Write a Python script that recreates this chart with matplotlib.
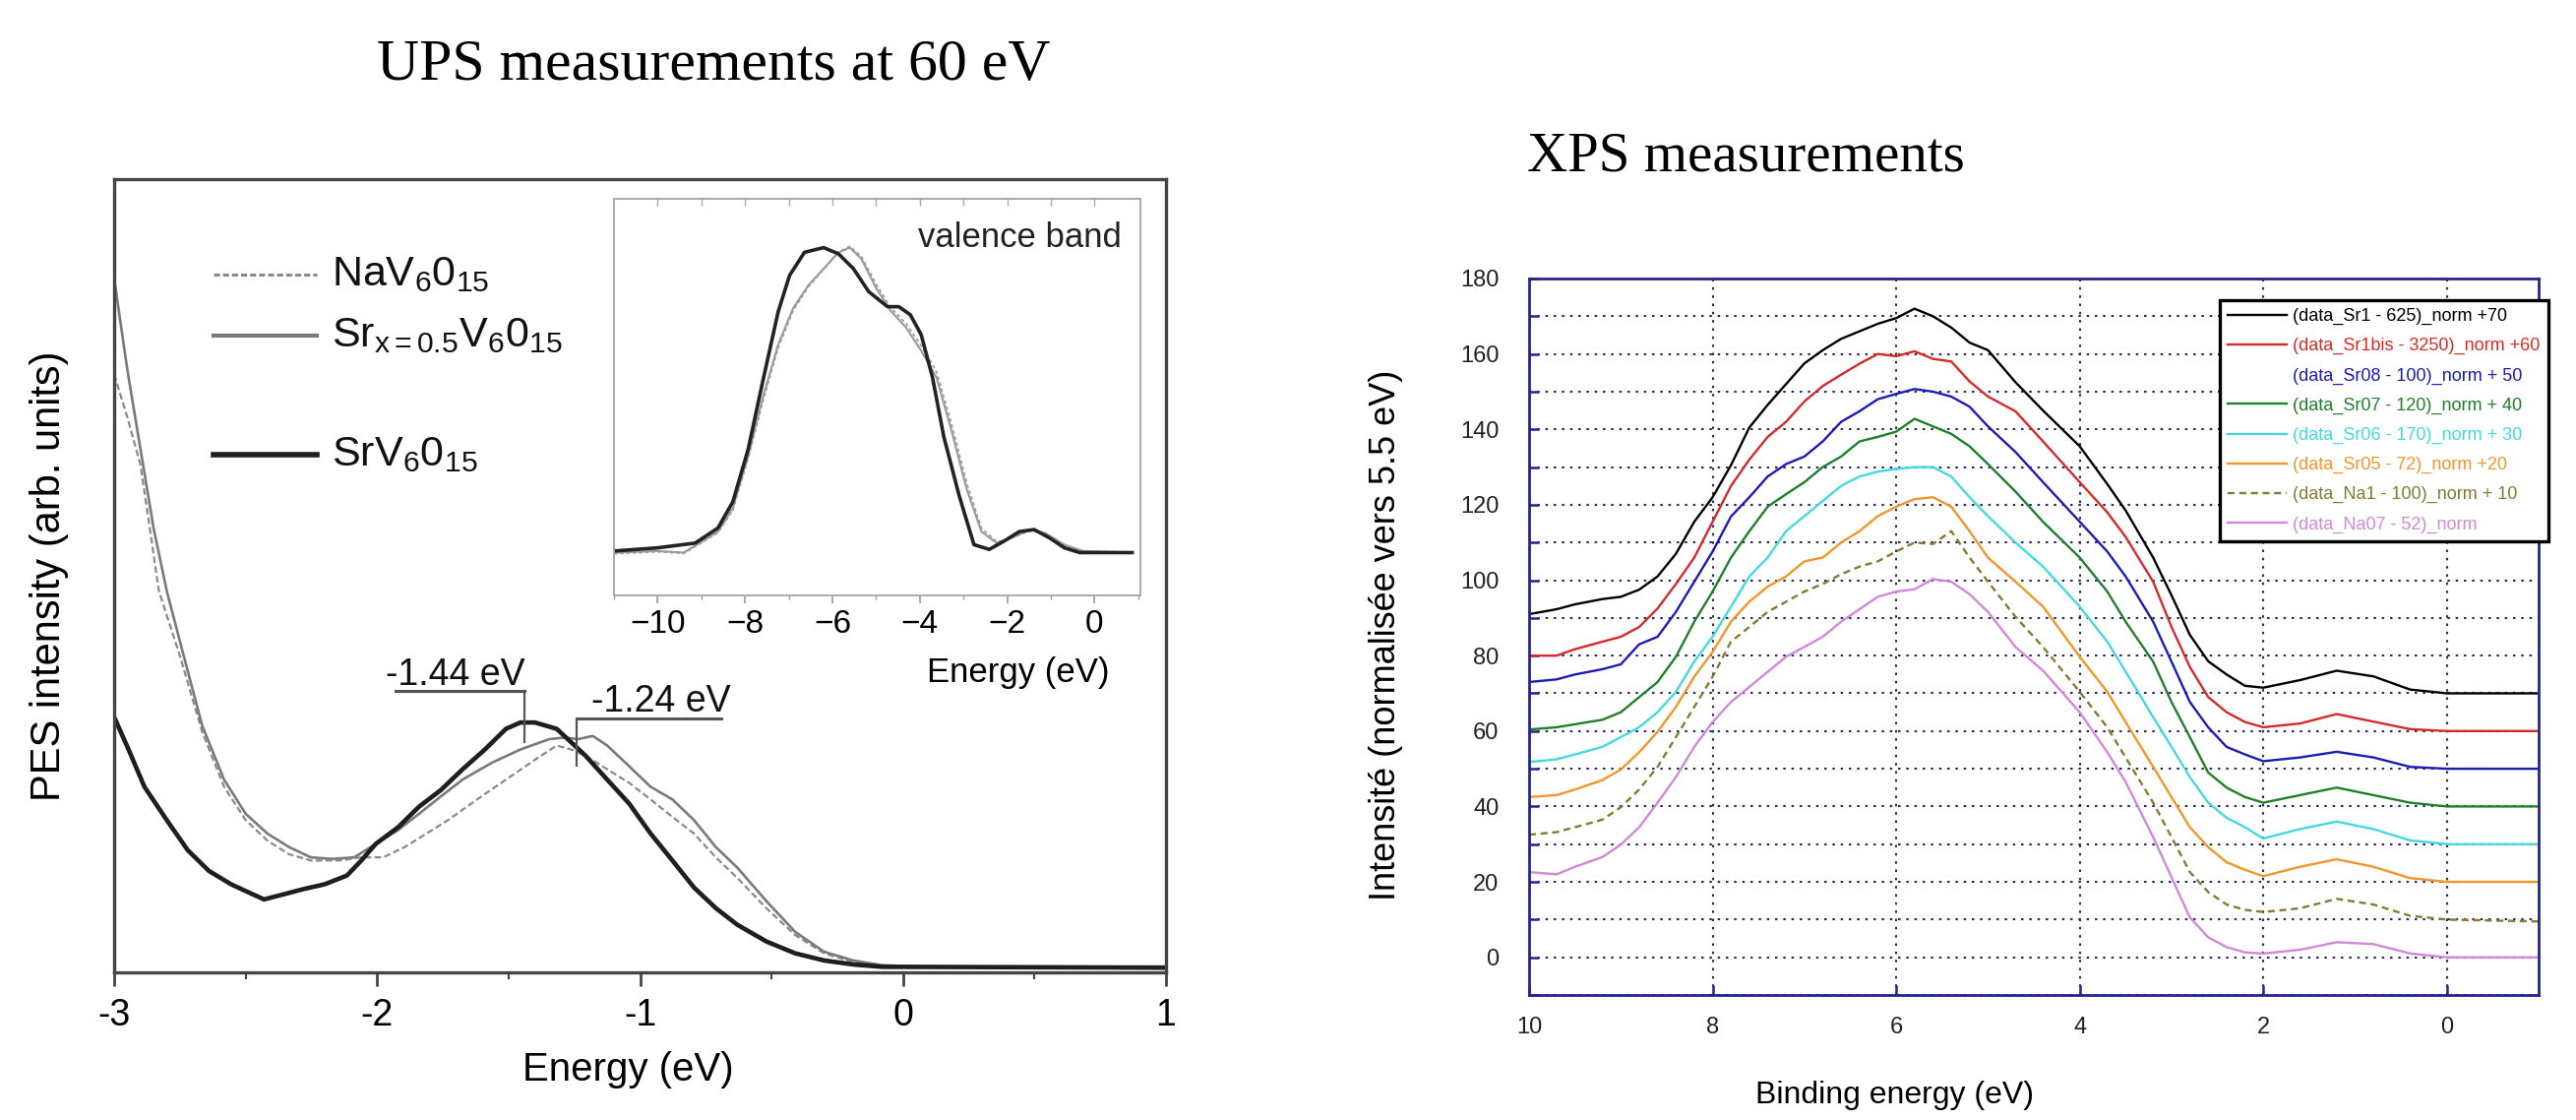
import matplotlib
matplotlib.use('Agg')
import matplotlib.pyplot as plt
from matplotlib.lines import Line2D
from matplotlib.ticker import MultipleLocator

plt.rcParams['font.family'] = ['Liberation Sans', 'DejaVu Sans']
plt.rcParams['mathtext.fontset'] = 'custom'
plt.rcParams['mathtext.rm'] = 'Liberation Sans'
plt.rcParams['mathtext.it'] = 'Liberation Sans:italic'
plt.rcParams['mathtext.bf'] = 'Liberation Sans:bold'

# ---------------- UPS main panel data (normalised intensity) ----------------
ups_sr_x = [-3.0, -2.94, -2.885, -2.80, -2.72, -2.64, -2.555, -2.47, -2.43, -2.36, -2.28, -2.20,
            -2.115, -2.06, -2.005, -1.92, -1.84, -1.757, -1.675, -1.59, -1.51, -1.455, -1.40,
            -1.317, -1.262, -1.207, -1.125, -1.042, -0.96, -0.877, -0.795, -0.712, -0.63, -0.52,
            -0.41, -0.30, -0.19, -0.08, 1.0]
ups_sr_y = [0.322, 0.277, 0.234, 0.192, 0.154, 0.128, 0.111, 0.098, 0.092, 0.098, 0.105, 0.111,
            0.122, 0.141, 0.162, 0.183, 0.209, 0.230, 0.256, 0.281, 0.307, 0.315, 0.315,
            0.307, 0.290, 0.273, 0.243, 0.213, 0.175, 0.141, 0.107, 0.081, 0.060, 0.039,
            0.024, 0.015, 0.010, 0.007, 0.006]

ups_sr05_x = [-3.0, -2.95, -2.90, -2.85, -2.80, -2.733, -2.665, -2.582, -2.50, -2.417, -2.335,
              -2.252, -2.17, -2.087, -2.005, -1.922, -1.84, -1.757, -1.675, -1.565, -1.455,
              -1.345, -1.29, -1.235, -1.18, -1.125, -1.042, -0.96, -0.877, -0.795, -0.712,
              -0.63, -0.52, -0.41, -0.30, -0.19, -0.08, 0.085, 1.0]
ups_sr05_y = [0.875, 0.76, 0.66, 0.56, 0.481, 0.396, 0.311, 0.243, 0.200, 0.175, 0.158,
              0.145, 0.143, 0.145, 0.162, 0.179, 0.200, 0.222, 0.243, 0.264, 0.281,
              0.294, 0.296, 0.294, 0.298, 0.286, 0.260, 0.234, 0.218, 0.192, 0.158,
              0.132, 0.090, 0.051, 0.026, 0.015, 0.009, 0.007, 0.005]

ups_na_x = [-3.0, -2.95, -2.90, -2.86, -2.83, -2.747, -2.665, -2.582, -2.50, -2.417, -2.335,
            -2.252, -2.142, -2.06, -1.977, -1.895, -1.812, -1.73, -1.62, -1.51, -1.40, -1.317,
            -1.262, -1.207, -1.125, -1.042, -0.96, -0.877, -0.795, -0.712, -0.63, -0.52,
            -0.41, -0.30, -0.19, -0.08, 1.0]
ups_na_y = [0.754, 0.70, 0.64, 0.55, 0.481, 0.396, 0.303, 0.234, 0.192, 0.166, 0.149,
            0.141, 0.141, 0.145, 0.145, 0.158, 0.175, 0.192, 0.218, 0.243, 0.268, 0.286,
            0.281, 0.273, 0.256, 0.239, 0.218, 0.196, 0.175, 0.145, 0.119, 0.081,
            0.047, 0.024, 0.013, 0.008, 0.005]

ups_labels = [r'NaV$_6$0$_{15}$', r'Sr$_{\mathrm{x=0.5}}$V$_6$0$_{15}$', r'SrV$_6$0$_{15}$']
peak_energies = [-1.44, -1.24]
peak_labels = ['-1.44 eV', '-1.24 eV']

# ---------------- inset (valence band) data ----------------
inset_sr_x = [-11.0, -10.0, -9.14, -8.62, -8.28, -7.93, -7.59, -7.24, -6.98, -6.64, -6.2, -5.86,
              -5.52, -5.17, -4.74, -4.48, -4.22, -3.97, -3.71, -3.45, -3.1, -2.76, -2.41, -2.07,
              -1.72, -1.38, -1.03, -0.69, -0.34, 0.86]
inset_sr_y = [0.112, 0.120, 0.132, 0.17, 0.236, 0.368, 0.542, 0.716, 0.807, 0.865, 0.877, 0.861,
              0.824, 0.766, 0.728, 0.728, 0.708, 0.658, 0.55, 0.40, 0.252, 0.128, 0.116, 0.137,
              0.161, 0.166, 0.145, 0.12, 0.108, 0.108]
inset_gray_x = [-11.0, -10.0, -9.4, -8.62, -8.28, -7.93, -7.59, -7.24, -6.9, -6.55, -6.2, -5.86,
                -5.6, -5.34, -5.0, -4.66, -4.31, -3.97, -3.62, -3.28, -2.93, -2.59, -2.24, -1.9,
                -1.47, -1.12, -0.69, -0.26, 0.86]
inset_sr05_y = [0.108, 0.112, 0.108, 0.161, 0.22, 0.352, 0.50, 0.633, 0.724, 0.782, 0.824, 0.865,
                0.877, 0.849, 0.775, 0.717, 0.675, 0.617, 0.55, 0.418, 0.269, 0.161, 0.132, 0.145,
                0.166, 0.157, 0.128, 0.112, 0.108]
inset_na_y = [0.105, 0.110, 0.106, 0.158, 0.215, 0.345, 0.49, 0.625, 0.718, 0.778, 0.822, 0.866,
              0.880, 0.855, 0.785, 0.725, 0.685, 0.630, 0.565, 0.435, 0.285, 0.170, 0.135, 0.145,
              0.163, 0.155, 0.126, 0.110, 0.107]

# ---------------- XPS data ----------------
xps_energy = [10, 9.7, 9.5, 9.2, 9.0, 8.8, 8.6, 8.4, 8.2, 8.0, 7.8, 7.6, 7.4, 7.2, 7.0, 6.8, 6.6,
              6.4, 6.2, 6.0, 5.8, 5.6, 5.4, 5.2, 5.0, 4.7, 4.4, 4.0, 3.7, 3.5, 3.2, 3.0, 2.8, 2.6,
              2.4, 2.2, 2.0, 1.6, 1.2, 0.8, 0.4, 0.0, -1.0]
xps_sr1 = [91, 92.3, 93.6, 95, 95.6, 97.5, 101, 107, 115.5, 122, 130.5, 140.5, 146.5, 152, 157.5,
           161, 164, 166, 168, 169.5, 172, 170, 167, 163, 161, 152.5, 145, 135.5, 125.5, 118.5,
           106, 96, 85.5, 78.5, 75, 72, 71.5, 73.5, 76, 74.5, 71, 70, 70]
xps_sr1bis = [80, 80, 81.7, 83.7, 85, 87.6, 92.5, 99, 106, 115.5, 125, 132, 138, 142, 147.4,
              151.5, 154.5, 157.4, 160, 159.4, 160.7, 158.7, 158, 152.7, 148.7, 144.8, 136.8, 126,
              118, 111.5, 99.6, 87.6, 77, 69, 65, 62.4, 61, 62, 64.5, 62.5, 60.5, 60, 60]
xps_sr08 = [73, 73.7, 75, 76.4, 77.7, 83, 85, 91.6, 99.6, 107.6, 116.9, 122, 127.5, 130.8, 132.8,
            136.8, 142, 144.8, 148, 149.4, 150.7, 150, 148.7, 146, 140.8, 134, 126, 115.5, 107.6,
            101, 89, 78.4, 67.7, 61, 55.8, 53.8, 52, 53, 54.5, 53, 50.5, 50, 50]
xps_sr07 = [60.4, 61, 61.8, 63, 65, 69, 73, 79.7, 89, 97, 106, 113, 119.5, 122.8, 126, 130, 132.8,
            136.8, 138, 139.4, 142.8, 140.8, 138.8, 135.5, 130.8, 123.5, 115.5, 106, 97, 89, 78.4,
            67.7, 58.4, 49, 45, 42.5, 41, 43, 45, 43, 41, 40, 40]
xps_sr06 = [51.8, 52.5, 53.8, 55.8, 58.4, 61, 65, 70.4, 78.4, 85, 93, 101, 106, 113, 117, 121, 125,
            127.5, 128.8, 129.5, 130, 130, 127.5, 122, 117, 110, 103.6, 93, 83.7, 75.8, 63.7, 55.8,
            47.8, 41, 37, 34.5, 31.5, 34, 36, 34, 31, 30, 30]
xps_sr05 = [42.5, 43, 44.5, 47, 49.8, 54.4, 59.8, 66.4, 74.4, 81, 89, 94.3, 98.3, 101, 105, 106,
            110, 113, 117, 119.5, 121.5, 122, 119.5, 113, 106, 99.6, 93, 79.7, 70.4, 62.4, 50.5,
            42.5, 34.5, 29.2, 25.2, 23.2, 21.5, 24, 26, 24, 21, 20, 20]
xps_na1 = [32.5, 33.2, 34.5, 36.5, 39.8, 44.5, 50.5, 58.4, 66.4, 74.4, 83.7, 87.6, 91.6, 94.3, 97,
           99, 101.6, 103.6, 105, 107.6, 110, 109.6, 113, 106, 99.6, 90.3, 82.3, 70.4, 61, 53, 41,
           31.9, 22.6, 17.3, 14, 12.6, 12, 13, 15.5, 14, 11, 10, 9.5]
xps_na07 = [22.6, 22, 24, 26.6, 29.9, 34.5, 41, 47.8, 55.8, 62.4, 67.7, 71.7, 75.7, 79.7, 82.3, 85,
            89, 92.3, 95.6, 97, 97.6, 100.3, 99.6, 96.3, 91.6, 82.3, 76, 65, 54.4, 46.5, 31.9,
            21.2, 10.6, 5.3, 2.7, 1.3, 1, 2, 4, 3.5, 1, 0, 0]
xps_labels = ['(data_Sr1 - 625)_norm +70', '(data_Sr1bis - 3250)_norm +60',
              '(data_Sr08 - 100)_norm + 50', '(data_Sr07 - 120)_norm + 40',
              '(data_Sr06 - 170)_norm + 30', '(data_Sr05 - 72)_norm +20',
              '(data_Na1 - 100)_norm + 10', '(data_Na07 - 52)_norm']
xps_ticks_y = [0, 20, 40, 60, 80, 100, 120, 140, 160, 180]
xps_ticks_x = [10, 8, 6, 4, 2, 0]

# ---------------- figure ----------------
W, H = 2618, 1138
fig = plt.figure(figsize=(W / 100, H / 100), dpi=100)


def fr(l, t, r, b):
    return [l / W, 1 - b / H, (r - l) / W, (b - t) / H]


# ---- UPS main axes ----
ax = fig.add_axes(fr(116, 182, 1185, 988))
ax.set_xlim(-3, 1)
ax.set_ylim(0, 1)
ax.plot(ups_na_x, ups_na_y, color='#8a8a8a', lw=1.6, ls=(0, (3, 1.5)))
ax.plot(ups_sr05_x, ups_sr05_y, color='#7a7a7a', lw=1.9)
ax.plot(ups_sr_x, ups_sr_y, color='#1e1e1e', lw=3.3)
for s in ax.spines.values():
    s.set_color('#444444')
    s.set_linewidth(2.4)
ax.set_yticks([])
ax.set_xticks([-3, -2, -1, 0, 1])
ax.set_xticklabels(['-3', '-2', '-1', '0', '1'])
ax.xaxis.set_minor_locator(MultipleLocator(0.5))
ax.tick_params(axis='x', which='major', direction='out', length=10, width=2, color='#444444',
               labelsize=27, pad=9)
ax.tick_params(axis='x', which='minor', direction='out', length=5, width=1.5, color='#444444')
ax.set_xlabel('Energy (eV)', fontsize=29)
ax.xaxis.label.set_va('center')
ax.xaxis.set_label_coords(0.489, -0.123)
ax.set_ylabel('PES intensity (arb. units)', fontsize=30)
ax.yaxis.label.set_va('center')
ax.yaxis.set_label_coords(-0.062, 0.5)

# manual legend (as in original)
leg_styles = [dict(color='#8a8a8a', lw=2.2, ls=(0, (2, 1))),
              dict(color='#7a7a7a', lw=3.0, ls='-'),
              dict(color='#1e1e1e', lw=4.0, ls='-')]
leg_y = [0.880, 0.803, 0.653]
for lab, st, yy in zip(ups_labels, leg_styles, leg_y):
    ax.plot([0.0945, 0.193], [yy, yy], transform=ax.transAxes, **st)
    ax.text(0.207, yy, lab, transform=ax.transAxes, fontsize=31, va='center', ha='left',
            color='#111111')

# peak annotations
ann = [dict(h=(-1.93, peak_energies[0]), y=0.355, v=0.29, tx=0.324, ty=0.375),
       dict(h=(peak_energies[1], -0.69), y=0.32, v=0.26, tx=0.520, ty=0.341)]
for a, pe, lab in zip(ann, peak_energies, peak_labels):
    ax.plot([a['h'][0], a['h'][1]], [a['y'], a['y']], color='#555555', lw=2.2)
    ax.plot([pe, pe], [a['y'], a['v']], color='#555555', lw=1.6)
    ax.text(a['tx'], a['ty'], lab, transform=ax.transAxes, fontsize=27, ha='center', va='center',
            color='#111111')

# ---- inset ----
axi = fig.add_axes(fr(624, 202, 1159, 605))
axi.set_xlim(-11, 1.05)
axi.set_ylim(0, 1)
axi.plot(inset_gray_x, inset_na_y, color='#a0a0a0', lw=1.3, ls=(0, (2, 1.5)))
axi.plot(inset_gray_x, inset_sr05_y, color='#9a9a9a', lw=1.5)
axi.plot(inset_sr_x, inset_sr_y, color='#222222', lw=2.6)
for s in axi.spines.values():
    s.set_color('#aaaaaa')
    s.set_linewidth(1.4)
axi.set_yticks([])
axi.set_xticks([-10, -8, -6, -4, -2, 0])
axi.xaxis.set_minor_locator(MultipleLocator(1))
axi.tick_params(axis='x', which='major', direction='out', length=6, width=1.2, color='#999999',
                labelsize=24, pad=4)
axi.tick_params(axis='x', which='minor', direction='out', length=3, width=1.0, color='#999999')
sec = axi.secondary_xaxis('top')
sec.set_xticks(list(range(-10, 1)))
sec.tick_params(direction='in', length=5, width=1.0, color='#aaaaaa', labeltop=False)
sec.spines['top'].set_color('#aaaaaa')
sec.spines['top'].set_linewidth(1.4)
axi.set_xlabel('Energy (eV)', fontsize=25)
axi.xaxis.label.set_va('center')
axi.xaxis.set_label_coords(0.768, -0.196)
axi.text(0.964, 0.903, 'valence band', transform=axi.transAxes, fontsize=25, ha='right',
         va='center', color='#222222')

# ---- XPS axes ----
navy = '#25258c'
axr = fig.add_axes(fr(1554, 283, 2580, 1011))
axr.set_xlim(10, -1)
axr.set_ylim(-10, 180)
xps_series = [xps_sr1, xps_sr1bis, xps_sr08, xps_sr07, xps_sr06, xps_sr05, xps_na1, xps_na07]
xps_colors = ['#000000', '#d42a2a', '#1c1cb4', '#1f7f2a', '#45d8e0', '#f0962a', '#857a30',
              '#d088d8']
xps_styles = ['-', '-', '-', '-', '-', '-', (0, (3, 2)), '-']
for ys, c, st in zip(xps_series, xps_colors, xps_styles):
    axr.plot(xps_energy, ys, color=c, lw=1.7, ls=st)
for s in axr.spines.values():
    s.set_color(navy)
    s.set_linewidth(2.0)
axr.set_yticks(xps_ticks_y)
axr.yaxis.set_minor_locator(MultipleLocator(10))
axr.set_xticks(xps_ticks_x)
axr.tick_params(axis='both', which='both', direction='in', length=7, width=1.8, color=navy,
                labelsize=17, labelcolor='#222222')
axr.tick_params(axis='y', which='major', pad=22)
axr.tick_params(axis='x', which='major', pad=16)
axr.grid(True, which='both', axis='y', color='#2a2a60', ls=(0, (1.2, 2.8)), lw=1.5)
axr.grid(True, which='major', axis='x', color='#2a2a60', ls=(0, (1.2, 2.8)), lw=1.5)
axr.set_xlabel('Binding energy (eV)', fontsize=23)
axr.xaxis.label.set_va('center')
axr.xaxis.set_label_coords(0.362, -0.140)
axr.set_ylabel('Intensité (normalisée vers 5.5 eV)', fontsize=26)
axr.yaxis.label.set_va('center')
axr.yaxis.set_label_coords(-0.142, 0.503)

handles = []
for c, st in zip(xps_colors, xps_styles):
    if c == '#1c1cb4':
        handles.append(Line2D([], [], color=c, lw=0))
    else:
        handles.append(Line2D([], [], color=c, lw=1.7, ls=st))
leg = axr.legend(handles, xps_labels, loc='upper left',
                 bbox_to_anchor=((2256 - 1554) / 1026, (1011 - 305) / 728), borderaxespad=0,
                 fontsize=13, frameon=True, fancybox=False, edgecolor='black', framealpha=1,
                 handlelength=3.3, handletextpad=0.35, labelspacing=0.72, borderpad=0.45)
leg.get_frame().set_linewidth(2.4)
for t, c in zip(leg.get_texts(), xps_colors):
    t.set_color(c)

# ---- titles ----
fig.text(725 / W, 1 - 67 / H, 'UPS measurements at 60 eV', family='Liberation Serif',
         fontsize=43, ha='center', va='center')
fig.text(1774 / W, 1 - 159 / H, 'XPS measurements', family='Liberation Serif',
         fontsize=41, ha='center', va='center')

fig.savefig('out.png', dpi=100)
